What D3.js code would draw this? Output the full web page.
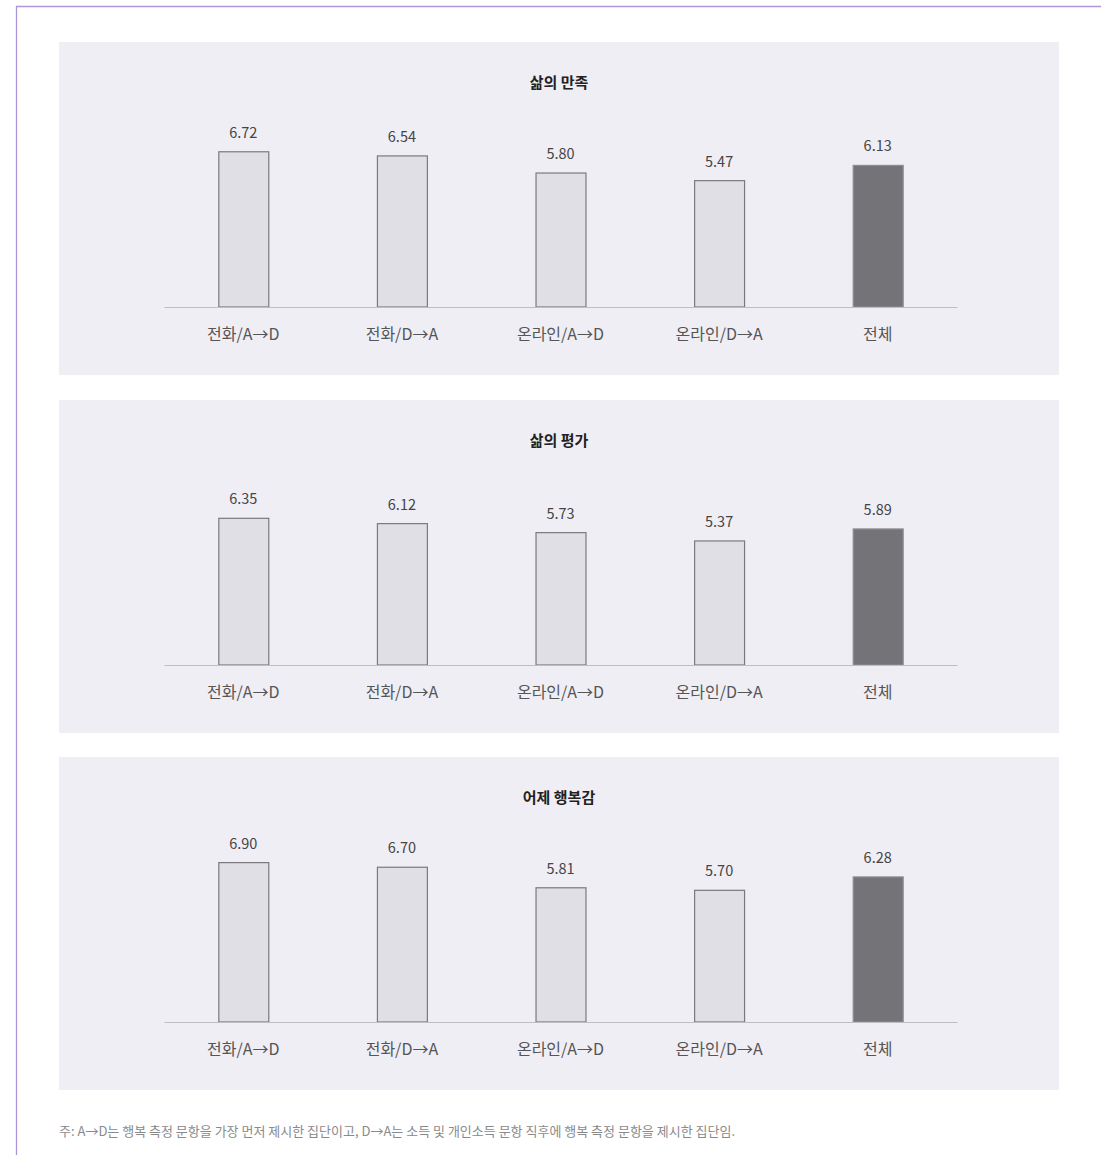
<!DOCTYPE html>
<html><head><meta charset="utf-8">
<script src="https://cdn.jsdelivr.net/npm/d3@7"></script>
<style>
html,body{margin:0;padding:0;background:#fff;}
svg{display:block;}
</style></head>
<body>
<script>
const categories = ["전화/A→D", "전화/D→A", "온라인/A→D", "온라인/D→A", "전체"];
const titles = ["삶의 만족", "삶의 평가", "어제 행복감"];
const lifeSatisfaction = [6.72, 6.54, 5.80, 5.47, 6.13];
const lifeEvaluation = [6.35, 6.12, 5.73, 5.37, 5.89];
const yesterdayHappiness = [6.90, 6.70, 5.81, 5.70, 6.28];
const seriesList = [lifeSatisfaction, lifeEvaluation, yesterdayHappiness];
const footnote = "주: A→D는 행복 측정 문항을 가장 먼저 제시한 집단이고, D→A는 소득 및 개인소득 문항 직후에 행복 측정 문항을 제시한 집단임.";

const W = 1101, H = 1155;
const font = "'Noto Sans CJK KR', 'Noto Sans', sans-serif";
const svg = d3.select("body").append("svg").attr("width", W).attr("height", H);

// purple frame
svg.append("line").attr("x1", 16).attr("x2", W).attr("y1", 6.5).attr("y2", 6.5).attr("stroke", "#ab97d6").attr("stroke-width", 1.3);
svg.append("line").attr("x1", 16.5).attr("x2", 16.5).attr("y1", 6).attr("y2", H).attr("stroke", "#ab97d6").attr("stroke-width", 1.3);

const panelTops = [42, 400, 757];
const panelX = 59, panelW = 1000, panelH = 333;

const x = d3.scaleBand().domain(categories).range([164, 957]).paddingInner(0.685).paddingOuter(0.3425);
const y = d3.scaleLinear().domain([0, 10]).range([265, 265 - 231]);

seriesList.forEach((vals, pi) => {
  const g = svg.append("g").attr("transform", `translate(0,${panelTops[pi]})`);
  g.append("rect").attr("x", panelX).attr("y", 0).attr("width", panelW).attr("height", panelH).attr("fill", "#f0eef5");
  g.append("text").attr("x", 559).attr("y", 46).attr("text-anchor", "middle")
    .attr("font-family", font).attr("font-size", 15).attr("font-weight", "bold").attr("fill", "#222").text(titles[pi]);

  const data = categories.map((c, i) => ({c, v: vals[i], total: i === categories.length - 1}));
  g.selectAll("rect.bar").data(data).join("rect").attr("class", "bar")
    .attr("x", d => x(d.c) + 0.5).attr("width", x.bandwidth())
    .attr("y", d => y(d.v)).attr("height", d => y(0) - y(d.v))
    .attr("fill", d => d.total ? "#737378" : "#e0dfe5")
    .attr("stroke", d => d.total ? "#8e8e92" : "#7a7a7e").attr("stroke-width", 1.2);

  g.selectAll("text.val").data(data).join("text").attr("class", "val")
    .attr("x", d => x(d.c) + x.bandwidth() / 2).attr("y", d => y(d.v) - 14)
    .attr("text-anchor", "middle").attr("font-family", font).attr("font-size", 14.5).attr("fill", "#444")
    .text(d => d.v.toFixed(2));

  const axis = d3.axisBottom(x).tickSize(0).tickPadding(22);
  const ag = g.append("g").attr("transform", `translate(0,${y(0)})`).call(axis);
  ag.select(".domain").attr("stroke", "#bdbdc2").attr("stroke-width", 1.2);
  ag.selectAll("text").attr("font-family", font).attr("font-size", 16).attr("fill", "#555");
});

svg.append("text").attr("x", 59).attr("y", 1136).attr("font-family", font).attr("font-size", 13)
  .attr("fill", "#8a8a8a").text(footnote);
</script>
</body></html>
